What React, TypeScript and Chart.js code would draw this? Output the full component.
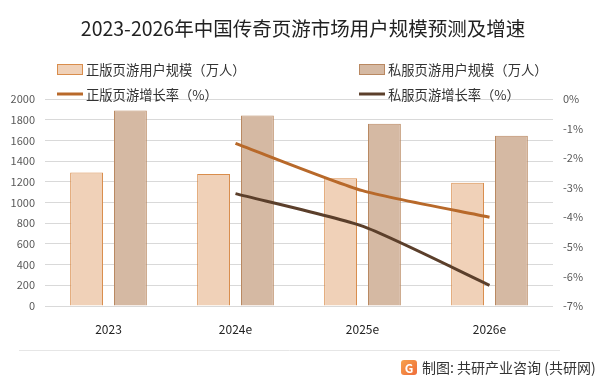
import React, { useEffect, useRef } from "react";
import { Chart, registerables } from "chart.js";

Chart.register(...registerables);

const categories = ["2023", "2024e", "2025e", "2026e"];
const zhengUsers = [1290, 1275, 1235, 1190];
const siUsers = [1890, 1840, 1760, 1645];
const zhengGrowth = [null, -1.5, -3.1, -4.0];
const siGrowth = [null, -3.2, -4.3, -6.3];
const leftTicks = [0, 2000, 200];
const rightTicks = [-7, 0, 1];

const titleText = "2023-2026年中国传奇页游市场用户规模预测及增速";
const legendLabels = ["正版页游用户规模（万人）", "私服页游用户规模（万人）", "正版页游增长率（%）", "私服页游增长率（%）"];
const footerText = "制图: 共研产业咨询 (共研网)";

const C = {
  zhengFill: "#F0D1B8",
  zhengBorder: "#D98D4C",
  siFill: "#D5B9A3",
  siBorder: "#B98861",
  zhengLine: "#B8692A",
  siLine: "#5B3F2B",
  grid: "#D9D9D9",
};

const FONT = '"Noto Sans CJK SC", "Noto Sans", sans-serif';

const decorPlugin = {
  id: "decor",
  afterDraw(chart: any) {
    const ctx = chart.ctx as CanvasRenderingContext2D;
    ctx.save();
    // title
    ctx.fillStyle = "#222";
    ctx.font = `19.5px ${FONT}`;
    ctx.textAlign = "center";
    ctx.textBaseline = "middle";
    ctx.fillText(titleText, 303, 29);

    // legend
    ctx.font = `13.3px ${FONT}`;
    ctx.textAlign = "left";
    const items = [
      { x: 57, y: 69, type: "box", fill: C.zhengFill, stroke: C.zhengBorder },
      { x: 359, y: 69, type: "box", fill: C.siFill, stroke: C.siBorder },
      { x: 57, y: 94, type: "line", stroke: C.zhengLine },
      { x: 359, y: 94, type: "line", stroke: C.siLine },
    ];
    items.forEach((it, i) => {
      if (it.type === "box") {
        ctx.fillStyle = it.fill as string;
        ctx.fillRect(it.x, it.y - 5, 26, 11);
        ctx.strokeStyle = it.stroke;
        ctx.lineWidth = 1;
        ctx.strokeRect(it.x + 0.5, it.y - 4.5, 25, 10);
      } else {
        ctx.strokeStyle = it.stroke;
        ctx.lineWidth = 3;
        ctx.beginPath();
        ctx.moveTo(it.x, it.y);
        ctx.lineTo(it.x + 26, it.y);
        ctx.stroke();
      }
      ctx.fillStyle = "#333";
      ctx.fillText(legendLabels[i], it.x + 29, it.y + 1);
    });

    // footer line
    ctx.strokeStyle = "#E6E6E6";
    ctx.lineWidth = 1;
    ctx.beginPath();
    ctx.moveTo(19, 350.5);
    ctx.lineTo(560, 350.5);
    ctx.stroke();

    // logo
    const grd = ctx.createLinearGradient(401, 360, 417, 376);
    grd.addColorStop(0, "#F7A24B");
    grd.addColorStop(1, "#EE6A3A");
    ctx.fillStyle = grd;
    ctx.beginPath();
    (ctx as any).roundRect(401, 360, 16, 15, 3);
    ctx.fill();
    ctx.fillStyle = "#fff";
    ctx.font = `bold 12px ${FONT}`;
    ctx.textAlign = "center";
    ctx.fillText("G", 409, 368);

    ctx.fillStyle = "#333";
    ctx.font = `14px ${FONT}`;
    ctx.textAlign = "left";
    ctx.fillText(footerText, 422, 368);
    ctx.restore();
  },
};

export default function App() {
  const ref = useRef<HTMLCanvasElement>(null);
  useEffect(() => {
    const chart = new Chart(ref.current!, {
      type: "bar",
      data: {
        labels: categories,
        datasets: [
          {
            type: "line",
            label: legendLabels[2],
            data: zhengGrowth,
            yAxisID: "y1",
            borderColor: C.zhengLine,
            borderWidth: 3,
            pointRadius: 0,
            tension: 0.2,
            order: 0,
          } as any,
          {
            type: "line",
            label: legendLabels[3],
            data: siGrowth,
            yAxisID: "y1",
            borderColor: C.siLine,
            borderWidth: 3,
            pointRadius: 0,
            tension: 0.2,
            order: 0,
          } as any,
          {
            label: legendLabels[0],
            data: zhengUsers,
            yAxisID: "y",
            backgroundColor: C.zhengFill,
            borderColor: C.zhengBorder,
            borderWidth: 1,
            categoryPercentage: 0.69,
            barPercentage: 0.75,
            order: 1,
          },
          {
            label: legendLabels[1],
            data: siUsers,
            yAxisID: "y",
            backgroundColor: C.siFill,
            borderColor: C.siBorder,
            borderWidth: 1,
            categoryPercentage: 0.69,
            barPercentage: 0.75,
            order: 1,
          },
        ],
      },
      options: {
        responsive: false,
        animation: false,
        layout: { padding: { top: 99, left: 0, right: 0, bottom: 0 } },
        plugins: { legend: { display: false }, title: { display: false }, tooltip: { enabled: false } },
        scales: {
          x: {
            grid: { display: false },
            border: { display: false },
            ticks: { color: "#222", font: { size: 12, family: FONT }, padding: 8 },
            afterFit: (s: any) => { s.height = 70; },
          },
          y: {
            position: "left",
            min: leftTicks[0],
            max: leftTicks[1],
            ticks: {
              stepSize: leftTicks[2],
              color: "#595959",
              font: { size: 11, family: FONT },
              padding: 10,
              callback: (v: any) => String(v),
            },
            grid: { color: C.grid, drawTicks: false },
            border: { display: false },
            afterFit: (s: any) => { s.width = 45; },
          },
          y1: {
            position: "right",
            min: rightTicks[0],
            max: rightTicks[1],
            ticks: {
              stepSize: rightTicks[2],
              color: "#595959",
              font: { size: 11, family: FONT },
              padding: 10,
              callback: (v: any) => `${v}%`,
            },
            grid: { display: false, drawTicks: false },
            border: { display: false },
            afterFit: (s: any) => { s.width = 49; },
          },
        },
      },
      plugins: [decorPlugin],
    });
    return () => chart.destroy();
  }, []);
  return (
    <div style={{ position: "fixed", left: 0, top: 0, width: 602, height: 376, background: "#fff" }}>
      <canvas ref={ref} width={602} height={376} />
    </div>
  );
}
